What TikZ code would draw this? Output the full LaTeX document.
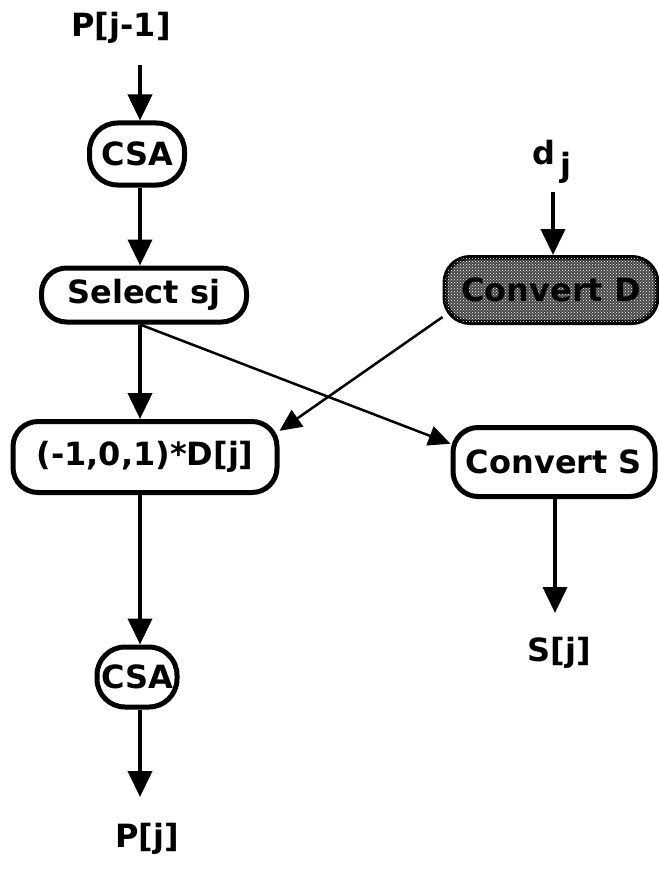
\documentclass[tikz,border=0pt]{standalone}
\usepackage{fontspec}
\setmainfont{DejaVu Sans}
\usetikzlibrary{arrows.meta,patterns}
\begin{document}
\begin{tikzpicture}[x=1pt,y=-1pt,
  every node/.style={font=\fontsize{32}{38}\selectfont\bfseries},
  box/.style={draw, line width=5pt, rounded corners=25pt, inner sep=0pt, align=center},
  oval/.style={draw, line width=5pt, rounded corners=28pt, inner sep=0pt, align=center},
  lbl/.style={inner sep=0pt},
  vflow/.style={line width=4pt, -{Triangle[width=24pt,length=26pt]}},
  dflow/.style={line width=2.5pt, -{Triangle[width=20pt,length=22pt]}}]
\useasboundingbox (0,0) rectangle (658,869);
% left column
\node[lbl] (pj1) at (121,28) {P[j-1]};
\coordinate (s1) at (140,65);
\node[oval, minimum width=95pt, minimum height=62pt] (csa1) at (137,154) {CSA};
\node[box, minimum width=205pt, minimum height=54pt] (sel) at (144,295) {Select sj};
\node[box, minimum width=264pt, minimum height=71pt] (mul) at (145,457) {(-1,0,1)*D[j]};
\node[oval, minimum width=80pt, minimum height=60pt] (csa2) at (137,677) {CSA};
\coordinate (e1) at (140,797);
\node[lbl] (pj) at (147,839) {P[j]};
% right column
\node[lbl] (dj) at (552,162) {d\,\raisebox{-12pt}{j}};
\coordinate (s2) at (553,192);
\node[box, minimum width=212pt, minimum height=65pt, fill=black!72,
      postaction={pattern=crosshatch dots, pattern color=white}] (convD) at (551,290) {\color{black}Convert D};
\node[box, minimum width=202pt, minimum height=69pt] (convS) at (554,462) {Convert S};
\coordinate (e2) at (555,613);
\node[lbl] (sj) at (559,653) {S[j]};
% connectors
\draw[vflow] (s1) -- (s1 |- csa1.north);
\draw[vflow] (csa1.south -| s1) -- (s1 |- sel.north);
\draw[vflow] (sel.south -| s1) -- (s1 |- mul.north);
\draw[vflow] (mul.south -| s1) -- (s1 |- csa2.north);
\draw[vflow] (csa2.south -| s1) -- (e1);
\draw[vflow] (s2) -- (s2 |- convD.north);
\draw[vflow] (convS.south -| e2) -- (e2);
\draw[dflow] (sel.south -| s1) -- (convS.170);
\draw[dflow] (convD.194) -- (mul.11);
\end{tikzpicture}
\end{document}
